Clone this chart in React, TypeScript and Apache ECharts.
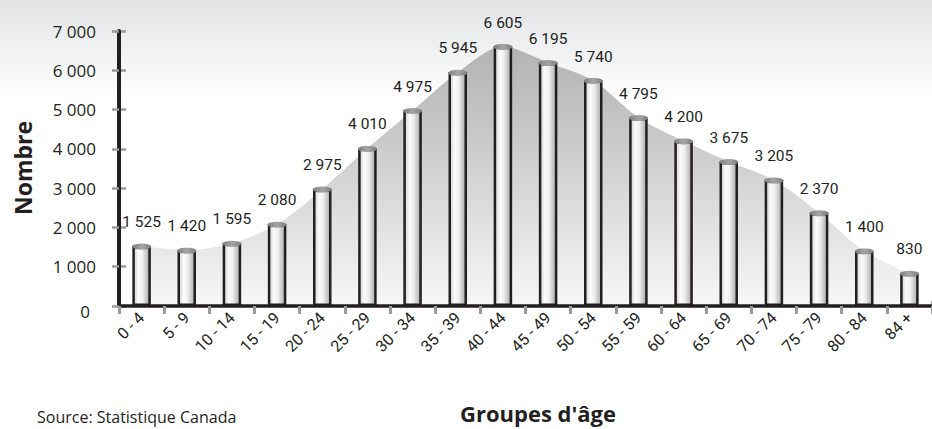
import React, { useEffect, useRef } from "react";
import * as echarts from "echarts";

const categories = [
  "0 - 4", "5 - 9", "10 - 14", "15 - 19", "20 - 24", "25 - 29", "30 - 34", "35 - 39", "40 - 44",
  "45 - 49", "50 - 54", "55 - 59", "60 - 64", "65 - 69", "70 - 74", "75 - 79", "80 - 84", "84 +",
];
const values = [1525, 1420, 1595, 2080, 2975, 4010, 4975, 5945, 6605, 6195, 5740, 4795, 4200, 3675, 3205, 2370, 1400, 830];
const yTicks = [0, 1000, 2000, 3000, 4000, 5000, 6000, 7000];
const yAxisTitle = "Nombre";
const xAxisTitle = "Groupes d'âge";
const sourceText = "Source: Statistique Canada";

const fmt = (v: number) => {
  const s = String(Math.round(v));
  return s.replace(/\B(?=(\d{3})+(?!\d))/g, " ");
};

const NARROW = "Roboto, 'Liberation Sans', sans-serif";
const REG = "'Open Sans', 'Noto Sans', sans-serif";
const INK = "#231f20";

export default function App() {
  const ref = useRef<HTMLDivElement>(null);
  useEffect(() => {
    document.body.style.margin = "0";
    const chart = echarts.init(ref.current!, null, { renderer: "svg" });
    chart.setOption({
      animation: false,
      graphic: {
        elements: [
          {
            type: "rect",
            z: -100,
            silent: true,
            shape: { x: 0, y: 0, width: 932, height: 429 },
            style: {
              fill: new echarts.graphic.LinearGradient(0, 0, 0, 1, [
                { offset: 0, color: "#e2e3e5" },
                { offset: 0.08, color: "#ecedee" },
                { offset: 0.24, color: "#ffffff" },
                { offset: 1, color: "#ffffff" },
              ]),
            },
          },
          {
            type: "text",
            x: 23,
            y: 168,
            rotation: Math.PI / 2,
            style: {
              text: yAxisTitle,
              font: "bold 23px 'Open Sans', sans-serif",
              fill: INK,
              align: "center",
              verticalAlign: "middle",
            },
          },
          {
            type: "text",
            x: 538,
            y: 413,
            style: {
              text: xAxisTitle,
              font: "bold 22px 'Open Sans', sans-serif",
              fill: INK,
              align: "center",
              verticalAlign: "middle",
            },
          },
          {
            type: "text",
            x: 37,
            y: 417,
            style: {
              text: sourceText,
              font: "16px 'Open Sans', sans-serif",
              fill: INK,
              align: "left",
              verticalAlign: "middle",
            },
          },
          {
            type: "text",
            x: 85,
            y: 311,
            style: {
              text: "0",
              font: "17px 'Open Sans', sans-serif",
              fill: INK,
              align: "center",
              verticalAlign: "middle",
            },
          },
        ],
      },
      grid: [{ left: 119, top: 31, width: 817, height: 275 }],
      xAxis: [
        {
          type: "category",
          data: categories,
          axisLine: { show: true, lineStyle: { color: INK, width: 3.5 } },
          axisTick: { show: true, length: 8, lineStyle: { color: "#9a9a9a", width: 3 } },
          axisLabel: {
            rotate: 45,
            margin: 9,
            color: INK,
            fontSize: 16,
            fontFamily: NARROW,
          },
          splitLine: { show: false },
          z: 5,
        },
        {
          type: "category",
          data: categories,
          position: "bottom",
          axisLine: { show: false },
          axisTick: { show: true, inside: true, length: 5, lineStyle: { color: "#9a9a9a", width: 3 } },
          axisLabel: { show: false },
          splitLine: { show: false },
        },
      ],
      yAxis: [
        {
          type: "value",
          min: yTicks[0],
          max: yTicks[yTicks.length - 1],
          interval: 1000,
          axisLine: { show: true, lineStyle: { color: INK, width: 4 } },
          axisTick: { show: true, length: 7, lineStyle: { color: "#9a9a9a", width: 2.5 } },
          axisLabel: {
            margin: 23,
            color: INK,
            fontSize: 17,
            fontFamily: REG,
            formatter: (v: number) => (v === 0 ? "" : fmt(v)),
          },
          splitLine: { show: false },
          z: 5,
        },
        {
          type: "value",
          min: yTicks[0],
          max: yTicks[yTicks.length - 1],
          interval: 1000,
          position: "left",
          axisLine: { show: false },
          axisTick: { show: true, inside: true, length: 7, lineStyle: { color: "#9a9a9a", width: 2.5 } },
          axisLabel: { show: false },
          splitLine: { show: false },
        },
      ],
      series: [
        {
          type: "line",
          data: values,
          smooth: 0.3,
          symbol: "none",
          silent: true,
          z: 1,
          lineStyle: { width: 0, opacity: 0 },
          areaStyle: {
            opacity: 1,
            color: new echarts.graphic.LinearGradient(0, 0, 0, 1, [
              { offset: 0, color: "#b3b3b3" },
              { offset: 0.35, color: "#c9c9c9" },
              { offset: 1, color: "#f7f7f7" },
            ]),
          },
        },
        {
          type: "bar",
          data: values,
          barWidth: 18.5,
          z: 3,
          itemStyle: {
            color: new echarts.graphic.LinearGradient(0, 0, 1, 0, [
              { offset: 0, color: "#cdcdcd" },
              { offset: 0.3, color: "#fbfbfb" },
              { offset: 0.55, color: "#f0f0f0" },
              { offset: 1, color: "#a8a8a8" },
            ]),
            borderColor: INK,
            borderWidth: 2.5,
          },
          label: {
            show: true,
            position: "top",
            distance: 16,
            color: INK,
            fontSize: 15.5,
            fontFamily: NARROW,
            formatter: (p: any) => fmt(p.value),
          },
        },
        {
          type: "pictorialBar",
          data: values,
          symbol: "circle",
          symbolSize: [19, 6],
          symbolPosition: "end",
          symbolOffset: [0, "-50%"],
          z: 4,
          itemStyle: {
            color: new echarts.graphic.LinearGradient(0, 0, 1, 0, [
              { offset: 0, color: "#7e7e7e" },
              { offset: 0.5, color: "#a5a5a5" },
              { offset: 1, color: "#7e7e7e" },
            ]),
            borderColor: INK,
            borderWidth: 1.6,
          },
        },
      ],
    });
    return () => chart.dispose();
  }, []);
  return <div ref={ref} style={{ position: "absolute", left: 0, top: 0, width: 932, height: 429 }} />;
}
